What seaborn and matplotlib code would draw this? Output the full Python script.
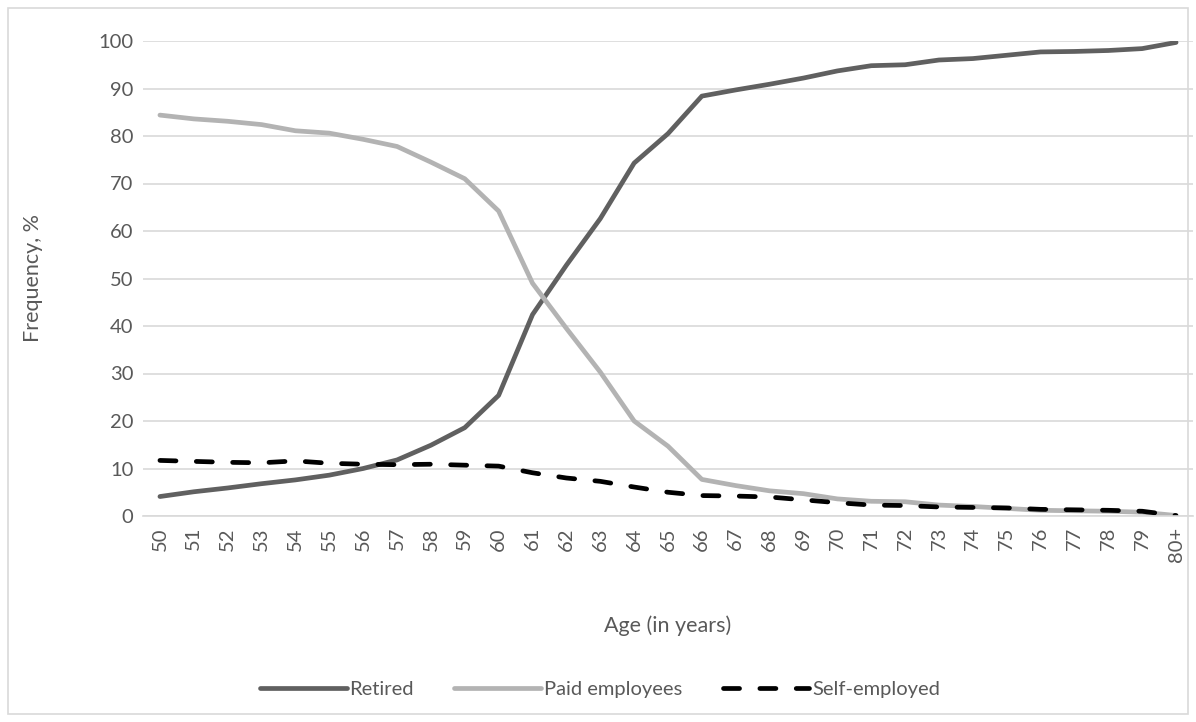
import matplotlib
matplotlib.use("Agg")
import matplotlib.pyplot as plt
import seaborn as sns
import pandas as pd
from matplotlib.patches import Rectangle

ages = [str(a) for a in range(50, 80)] + ["80+"]
retired = [4.1, 5.1, 5.9, 6.8, 7.6, 8.6, 10.0, 11.8, 14.9, 18.6, 25.4,
           42.4, 52.8, 62.6, 74.3, 80.5, 88.4, 89.7, 90.9, 92.2, 93.7,
           94.8, 95.0, 96.0, 96.3, 97.0, 97.7, 97.8, 98.0, 98.4, 99.7]
paid = [84.4, 83.6, 83.1, 82.4, 81.1, 80.6, 79.3, 77.8, 74.5, 71.0, 64.2,
        49.0, 39.5, 30.3, 20.0, 14.7, 7.7, 6.4, 5.3, 4.7, 3.6,
        3.1, 3.0, 2.3, 2.0, 1.6, 1.2, 1.1, 1.0, 0.8, 0.1]
selfemp = [11.7, 11.5, 11.3, 11.2, 11.6, 11.1, 10.9, 10.8, 10.9, 10.7, 10.5,
           9.1, 8.0, 7.3, 6.1, 5.0, 4.3, 4.2, 4.0, 3.4, 2.8,
           2.3, 2.2, 1.9, 1.8, 1.7, 1.4, 1.3, 1.2, 1.0, 0.1]
series_names = ["Retired", "Paid employees", "Self-employed"]
colors = ["#606060", "#b3b3b3", "#000000"]

sns.set_theme(style="white")
plt.rcParams["font.family"] = ["Lato", "DejaVu Sans"]

fig = plt.figure(figsize=(11.96, 7.22), dpi=100)
ax = fig.add_axes([143/1196, 206/722, 1050/1196, 475/722])

xpos = list(range(len(ages)))
df = pd.DataFrame({"x": xpos * 3,
                   "value": retired + paid + selfemp,
                   "series": sum([[n] * len(ages) for n in series_names], [])})

for name, col, vals in zip(series_names, colors, [retired, paid, selfemp]):
    sub = df[df["series"] == name]
    sns.lineplot(data=sub, x="x", y="value", ax=ax, color=col, linewidth=3.4,
                 label=name, solid_capstyle="round", dash_capstyle="round",
                 linestyle="--" if name == "Self-employed" else "-")
for ln in ax.get_lines():
    if ln.get_linestyle() == "--":
        ln.set_dashes([3.4, 4.3])

ax.set_xlim(-0.5, len(ages) - 0.5)
ax.set_ylim(0, 100)
ax.set_yticks(range(0, 101, 10))
ax.set_xticks(xpos)
ax.set_xticklabels(ages, rotation=90)
ax.yaxis.grid(True, color="#d9d9d9", linewidth=1.2)
ax.set_axisbelow(True)
for s in ["top", "right", "left"]:
    ax.spines[s].set_visible(False)
ax.spines["bottom"].set_color("#d9d9d9")
ax.spines["bottom"].set_linewidth(1.2)
ax.tick_params(axis="both", length=0, labelsize=14.5, colors="#595959", pad=8)
ax.tick_params(axis="y", pad=7)
ax.set_xlabel("Age (in years)", fontsize=15.5, color="#595959", labelpad=38)
ax.set_ylabel("Frequency, %", fontsize=15.5, color="#595959", labelpad=40)

leg = ax.legend(loc="center", bbox_to_anchor=(600/1196, 33/722),
                bbox_transform=fig.transFigure, ncol=3, frameon=False,
                fontsize=14.5, handlelength=4.3, columnspacing=2.0,
                handletextpad=0.15)
for t in leg.get_texts():
    t.set_color("#595959")

fig.patches.append(Rectangle((8/1196, 8/722), 1180/1196, 706/722,
                             transform=fig.transFigure, fill=False,
                             edgecolor="#d9d9d9", linewidth=1.2))

fig.savefig("out.png", dpi=100, facecolor="white")
